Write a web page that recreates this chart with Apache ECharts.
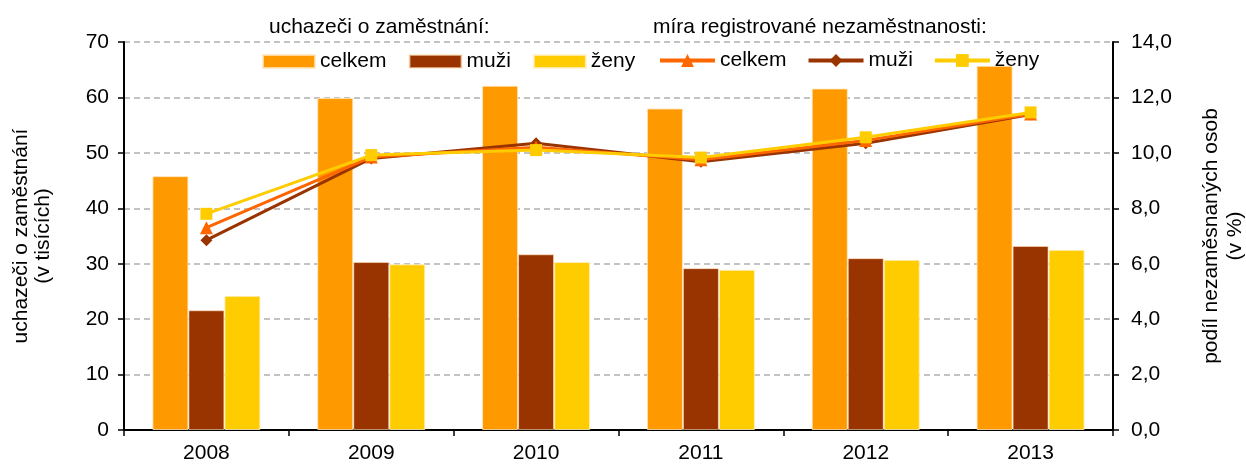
<!DOCTYPE html>
<html>
<head>
<meta charset="utf-8">
<script src="https://cdn.jsdelivr.net/npm/echarts@6/dist/echarts.min.js"></script>
<style>
    html, body { margin: 0; padding: 0; background: #fff; }
    #chart { width: 1246px; height: 464px; }
</style>
</head>
<body>
<div id="chart"></div>
<script>
// kategorie a hodnoty
var years = ['2008', '2009', '2010', '2011', '2012', '2013'];

// uchazeči o zaměstnání (v tisících)
var uchCelkem = [45.8, 59.9, 62.1, 58.0, 61.6, 65.7];
var uchMuzi = [21.6, 30.3, 31.7, 29.2, 31.0, 33.2];
var uchZeny = [24.2, 29.9, 30.3, 28.9, 30.7, 32.5];

// míra registrované nezaměstnanosti (v %)
var miraCelkem = [7.3, 9.85, 10.2, 9.75, 10.45, 11.4];
var miraMuzi = [6.85, 9.8, 10.35, 9.68, 10.35, 11.38];
var miraZeny = [7.8, 9.92, 10.1, 9.83, 10.56, 11.46];

var leftTicks = [0, 70, 10];
var rightTicks = [0, 14, 2];

var myChart;

window.onload = function () {
    myChart = echarts.init(document.getElementById('chart'));

    var font = "'Liberation Sans', Arial, sans-serif";
    var fs = 21;

    var option = {
        animation: false,
        textStyle: { fontFamily: font },
        title: [{
            text: 'uchazeči o zaměstnání:',
            left: 264,
            top: 12,
            textStyle: { fontSize: fs, fontWeight: 'normal', color: '#000' }
        }, {
            text: 'míra registrované nezaměstnanosti:',
            left: 648,
            top: 12,
            textStyle: { fontSize: fs, fontWeight: 'normal', color: '#000' }
        }],
        legend: [{
            data: ['celkem', 'muži', 'ženy'],
            left: 257,
            top: 46,
            itemWidth: 52,
            itemHeight: 13,
            itemGap: 22,
            icon: 'rect',
            textStyle: { fontSize: fs, color: '#000' }
        }, {
            data: ['celkem ', 'muži ', 'ženy '],
            left: 653,
            top: 45,
            itemWidth: 55,
            itemHeight: 16,
            itemGap: 20,
            lineStyle: { width: 4 },
            formatter: function (name) {
                return name.trim();
            },
            textStyle: { fontSize: fs, color: '#000' }
        }],
        grid: {
            left: 124,
            right: 133,
            top: 42,
            bottom: 34,
            outerBoundsMode: 'none'
        },
        xAxis: {
            type: 'category',
            data: years,
            boundaryGap: true,
            axisLine: { lineStyle: { color: '#000', width: 2 } },
            axisTick: { show: true, length: 6, lineStyle: { color: '#000', width: 1.5 } },
            axisLabel: { fontSize: fs, color: '#000', margin: 13 }
        },
        yAxis: [{
            type: 'value',
            min: leftTicks[0],
            max: leftTicks[1],
            interval: leftTicks[2],
            name: 'uchazeči o zaměstnání\n(v tisících)',
            nameLocation: 'middle',
            nameGap: 70,
            nameTextStyle: { fontSize: fs, color: '#000', lineHeight: 22 },
            axisLine: { show: true, lineStyle: { color: '#000', width: 2 } },
            axisTick: { show: true, length: 6, lineStyle: { color: '#000', width: 1.5 } },
            axisLabel: { fontSize: fs, color: '#000', margin: 15 },
            splitLine: { show: true, lineStyle: { color: '#b0b0b0', width: 1.5, type: [6, 4] } }
        }, {
            type: 'value',
            position: 'right',
            min: rightTicks[0],
            max: rightTicks[1],
            interval: rightTicks[2],
            name: 'podíl nezaměsnaných osob\n(v %)',
            nameLocation: 'middle',
            nameGap: 86,
            nameTextStyle: { fontSize: fs, color: '#000', lineHeight: 24 },
            axisLine: { show: true, lineStyle: { color: '#000', width: 2 } },
            axisTick: { show: true, length: 6, lineStyle: { color: '#000', width: 1.5 } },
            axisLabel: {
                fontSize: fs,
                color: '#000',
                margin: 18,
                formatter: function (v) {
                    return v.toFixed(1).replace('.', ',');
                }
            },
            splitLine: { show: false }
        }],
        series: [{
            name: 'celkem',
            type: 'bar',
            barWidth: 36,
            barGap: '0%',
            itemStyle: { color: '#FF9900', borderColor: 'rgba(255,230,190,0.8)', borderWidth: 1 },
            data: uchCelkem
        }, {
            name: 'muži',
            type: 'bar',
            barWidth: 36,
            barGap: '0%',
            itemStyle: { color: '#993300', borderColor: 'rgba(255,230,190,0.6)', borderWidth: 1 },
            data: uchMuzi
        }, {
            name: 'ženy',
            type: 'bar',
            barWidth: 36,
            barGap: '0%',
            itemStyle: { color: '#FFCC00', borderColor: 'rgba(255,240,200,0.8)', borderWidth: 1 },
            data: uchZeny
        }, {
            name: 'celkem ',
            type: 'line',
            yAxisIndex: 1,
            symbol: 'triangle',
            symbolSize: 13,
            lineStyle: { color: '#FF6600', width: 3 },
            itemStyle: { color: '#FF6600' },
            data: miraCelkem,
            z: 3
        }, {
            name: 'muži ',
            type: 'line',
            yAxisIndex: 1,
            symbol: 'diamond',
            symbolSize: 12,
            lineStyle: { color: '#993300', width: 3 },
            itemStyle: { color: '#993300' },
            data: miraMuzi,
            z: 2
        }, {
            name: 'ženy ',
            type: 'line',
            yAxisIndex: 1,
            symbol: 'rect',
            symbolSize: 12,
            lineStyle: { color: '#FFCC00', width: 3 },
            itemStyle: { color: '#FFCC00' },
            data: miraZeny,
            z: 4
        }]
    };

    myChart.setOption(option);
};
</script>
</body>
</html>
